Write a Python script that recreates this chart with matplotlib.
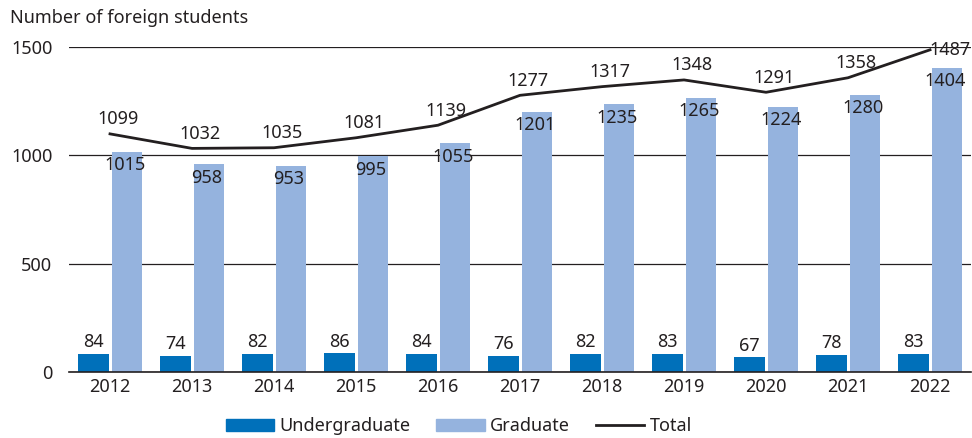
import matplotlib.pyplot as plt
import numpy as np
from matplotlib.patches import Patch
from matplotlib.lines import Line2D

plt.rcParams['font.family'] = ['Noto Sans', 'DejaVu Sans']

years = ['2012', '2013', '2014', '2015', '2016', '2017', '2018', '2019', '2020', '2021', '2022']
undergraduate = [84, 74, 82, 86, 84, 76, 82, 83, 67, 78, 83]
graduate = [1015, 958, 953, 995, 1055, 1201, 1235, 1265, 1224, 1280, 1404]
total = [1099, 1032, 1035, 1081, 1139, 1277, 1317, 1348, 1291, 1358, 1487]

c_under = '#0070BA'
c_grad = '#95B3DE'
c_text = '#231F20'
font_size = 13

fig = plt.figure(figsize=(9.72, 4.38), dpi=100)
ax = fig.add_axes([0.071, 0.1507, 0.928, 0.742])

x = np.arange(len(years))
w = 0.37
ax.bar(x - 0.2, undergraduate, width=w, color=c_under, zorder=2)
ax.bar(x + 0.21, graduate, width=w, color=c_grad, zorder=2)
ax.plot(x, total, color=c_text, lw=2, zorder=3)

for i in range(len(years)):
    ax.annotate(str(undergraduate[i]), (x[i] - 0.2, undergraduate[i]), xytext=(0, 2),
                textcoords='offset points', ha='center', va='bottom', fontsize=font_size, color=c_text)
    ax.annotate(str(graduate[i]), (x[i] + 0.18, graduate[i]), xytext=(0, -3),
                textcoords='offset points', ha='center', va='top', fontsize=font_size, color=c_text, zorder=4)
    if i == len(years) - 1:
        ax.annotate(str(total[i]), (x[i], total[i]), xytext=(14, 0),
                    textcoords='offset points', ha='center', va='center', fontsize=font_size, color=c_text)
    else:
        ax.annotate(str(total[i]), (x[i], total[i]), xytext=(6, 4),
                    textcoords='offset points', ha='center', va='bottom', fontsize=font_size, color=c_text)

ax.set_xlim(-0.5, len(years) - 0.5)
ax.set_ylim(0, 1500)
ax.set_yticks([0, 500, 1000, 1500])
ax.set_xticks(x)
ax.set_xticklabels(years)
ax.tick_params(axis='both', length=0, labelsize=font_size, colors=c_text)
ax.tick_params(axis='y', pad=12)
ax.tick_params(axis='x', pad=4)
for s in ['top', 'right', 'left']:
    ax.spines[s].set_visible(False)
ax.spines['bottom'].set_color(c_text)
ax.spines['bottom'].set_linewidth(1.2)
ax.yaxis.grid(True, color=c_text, lw=0.9)
ax.set_axisbelow(True)

fig.text(0.01, 0.958, 'Number of foreign students', fontsize=font_size, color=c_text, va='center')

handles = [Patch(color=c_under), Patch(color=c_grad), Line2D([0], [0], color=c_text, lw=2)]
fig.legend(handles, ['Undergraduate', 'Graduate', 'Total'], loc='center', bbox_to_anchor=(0.472, 0.027),
           ncol=3, frameon=False, fontsize=font_size, handlelength=2.7, handleheight=0.7,
           columnspacing=1.4, handletextpad=0.3, labelcolor=c_text)

plt.savefig('out.png', dpi=100)
